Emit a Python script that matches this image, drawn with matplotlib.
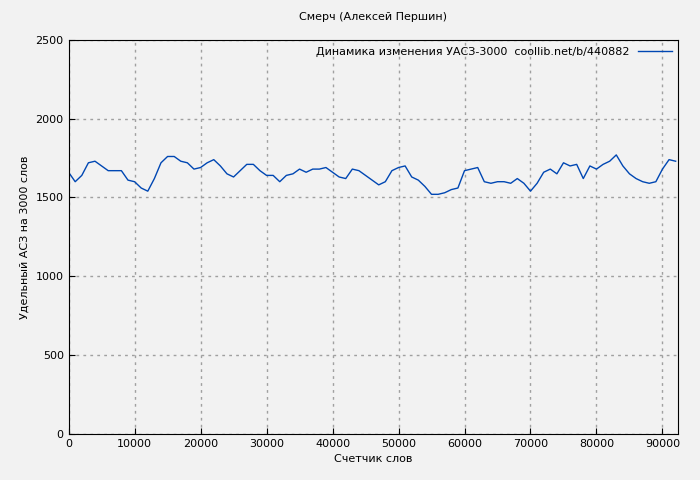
import numpy as np
import matplotlib.pyplot as plt

plt.rcParams['font.family'] = ['DejaVu Sans']
plt.rcParams['font.size'] = 8

# счетчик слов (тыс.) и удельный АСЗ
words = np.arange(0, 93) * 1000
values = [1660, 1600, 1640, 1720, 1730, 1700, 1670, 1670, 1670, 1610,
          1600, 1560, 1540, 1620, 1720, 1760, 1760, 1730, 1720, 1680,
          1690, 1720, 1740, 1700, 1650, 1630, 1670, 1710, 1710, 1670,
          1640, 1640, 1600, 1640, 1650, 1680, 1660, 1680, 1680, 1690,
          1660, 1630, 1620, 1680, 1670, 1640, 1610, 1580, 1600, 1670,
          1690, 1700, 1630, 1610, 1570, 1520, 1520, 1530, 1550, 1560,
          1670, 1680, 1690, 1600, 1590, 1600, 1600, 1590, 1620, 1590,
          1540, 1590, 1660, 1680, 1650, 1720, 1700, 1710, 1620, 1700,
          1680, 1710, 1730, 1770, 1700, 1650, 1620, 1600, 1590, 1600,
          1680, 1740, 1730]

fig = plt.figure(figsize=(7, 4.8), dpi=100, facecolor='#f2f2f2')
ax = fig.add_axes([0.098, 0.096, 0.871, 0.821])
ax.set_facecolor('#f2f2f2')
ax.plot(words, values, color='#0047b3', lw=1,
        label='Динамика изменения УАСЗ-3000  coollib.net/b/440882')
ax.set_xlim(0, 92400)
ax.set_ylim(0, 2500)
ax.set_xticks(np.arange(0, 92400, 10000))
ax.set_yticks(np.arange(0, 2501, 500))
ax.grid(True, color='#a0a0a0', linestyle=(0, (2, 3)), lw=1)
ax.tick_params(direction='in', length=4)
ax.set_title('Смерч (Алексей Першин)', fontsize=8, pad=14)
ax.set_xlabel('Счетчик слов')
ax.set_ylabel('Удельный АСЗ на 3000 слов')
ax.legend(loc='upper right', frameon=False, markerfirst=False,
          handlelength=3, borderaxespad=0.2)
fig.savefig('out.png', facecolor=fig.get_facecolor())
